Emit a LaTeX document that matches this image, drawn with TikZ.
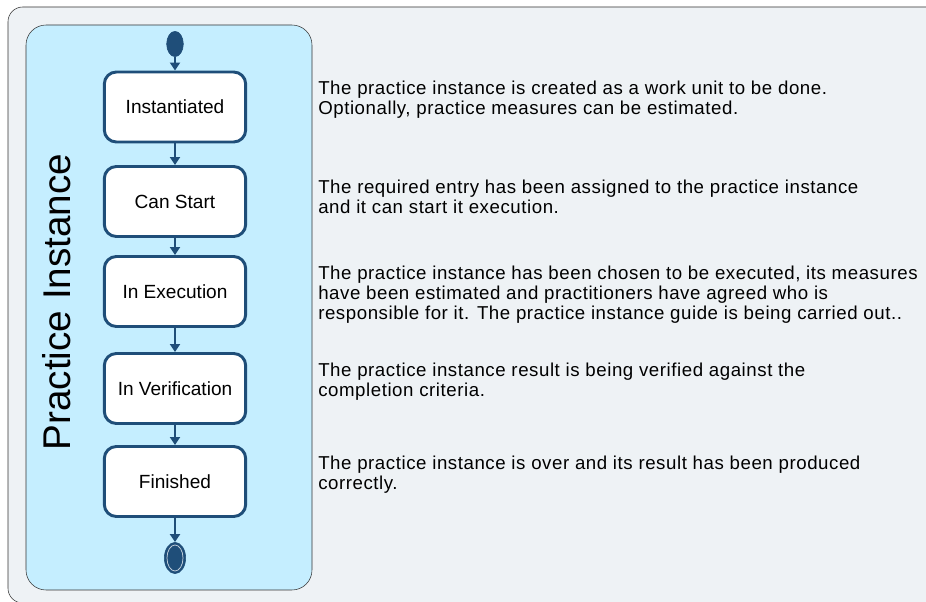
\documentclass[tikz,border=0pt]{standalone}
\usepackage{fontspec}
\setmainfont{Liberation Sans}
\newfontfamily\descfont[LetterSpace=3.0]{Liberation Sans}
\usetikzlibrary{arrows.meta, positioning, shapes.geometric}
\definecolor{Navy}{HTML}{1F4E79}
\definecolor{Panel}{HTML}{C5EEFF}
\definecolor{Paper}{HTML}{EEF2F5}
\definecolor{Frame}{HTML}{333333}

\begin{document}
\begin{tikzpicture}[x=0.75pt, y=-0.75pt, >={Triangle[length=6pt, width=7.5pt]},
  font=\descfont\fontsize{14}{15}\selectfont,
  stbox/.style={draw=Navy, fill=white, line width=2.2pt, rounded corners=9pt,
    minimum width=106pt, minimum height=52.5pt, inner sep=0pt,
    font=\rmfamily\fontsize{14.3}{16}\selectfont},
  dot/.style={ellipse, draw=Navy, fill=Navy, inner sep=0pt},
  flow/.style={->, line width=2pt, Navy},
  desc/.style={anchor=west, align=left, inner sep=0pt}]
  \useasboundingbox (0,0) rectangle (926,602);
  \clip (0,0) rectangle (926,602);
  \fill[white] (0,0) rectangle (926,602);
  % frame and swimlane
  \draw[Frame, fill=Paper, rounded corners=11pt] (8,7) rectangle (980,603);
  \draw[Frame, fill=Panel, rounded corners=15pt] (26,25) rectangle (312,590);
  \node[rotate=90, font=\rmfamily\fontsize{29}{34}\selectfont] (lane) at (57,302) {Practice Instance};
  % states
  \node[dot, minimum width=12.5pt, minimum height=19pt] (start) at (175,44) {};
  \node[stbox] (inst) at (175,107) {Instantiated};
  \node[stbox] (can) at (175,201.5) {Can Start};
  \node[stbox] (exec) at (175,291.5) {In Execution};
  \node[stbox] (verif) at (175,388.5) {In Verification};
  \node[stbox] (fin) at (175,481.5) {Finished};
  \node[dot, minimum width=16pt, minimum height=23.5pt] (stop) at (175,558) {};
  \draw[white!70!Navy, line width=0.6pt] (stop.center) ellipse (8 and 13);
  \draw[flow] (start) -- (inst);
  \draw[flow] (inst) -- (can);
  \draw[flow] (can) -- (exec);
  \draw[flow] (exec) -- (verif);
  \draw[flow] (verif) -- (fin);
  \draw[flow] (fin) -- (stop);
  % descriptions
  \node[desc] (d1) at (318,100) {The practice instance is created as a work unit to be done.\\
    Optionally, practice measures can be estimated.};
  \node[desc] (d2) at (318,197) {The required entry has been assigned to the practice instance\\
    and it can start it execution.};
  \node[desc] (d3) at (318,295) {The practice instance has been chosen to be executed, its measures\\
    have been estimated and practitioners have agreed who is\\
    responsible for it. The practice instance guide is being carried out..};
  \node[desc] (d4) at (318,382) {The practice instance result is being verified against the\\
    completion criteria.};
  \node[desc] (d5) at (318,475) {The practice instance is over and its result has been produced\\
    correctly.};
\end{tikzpicture}
\end{document}
